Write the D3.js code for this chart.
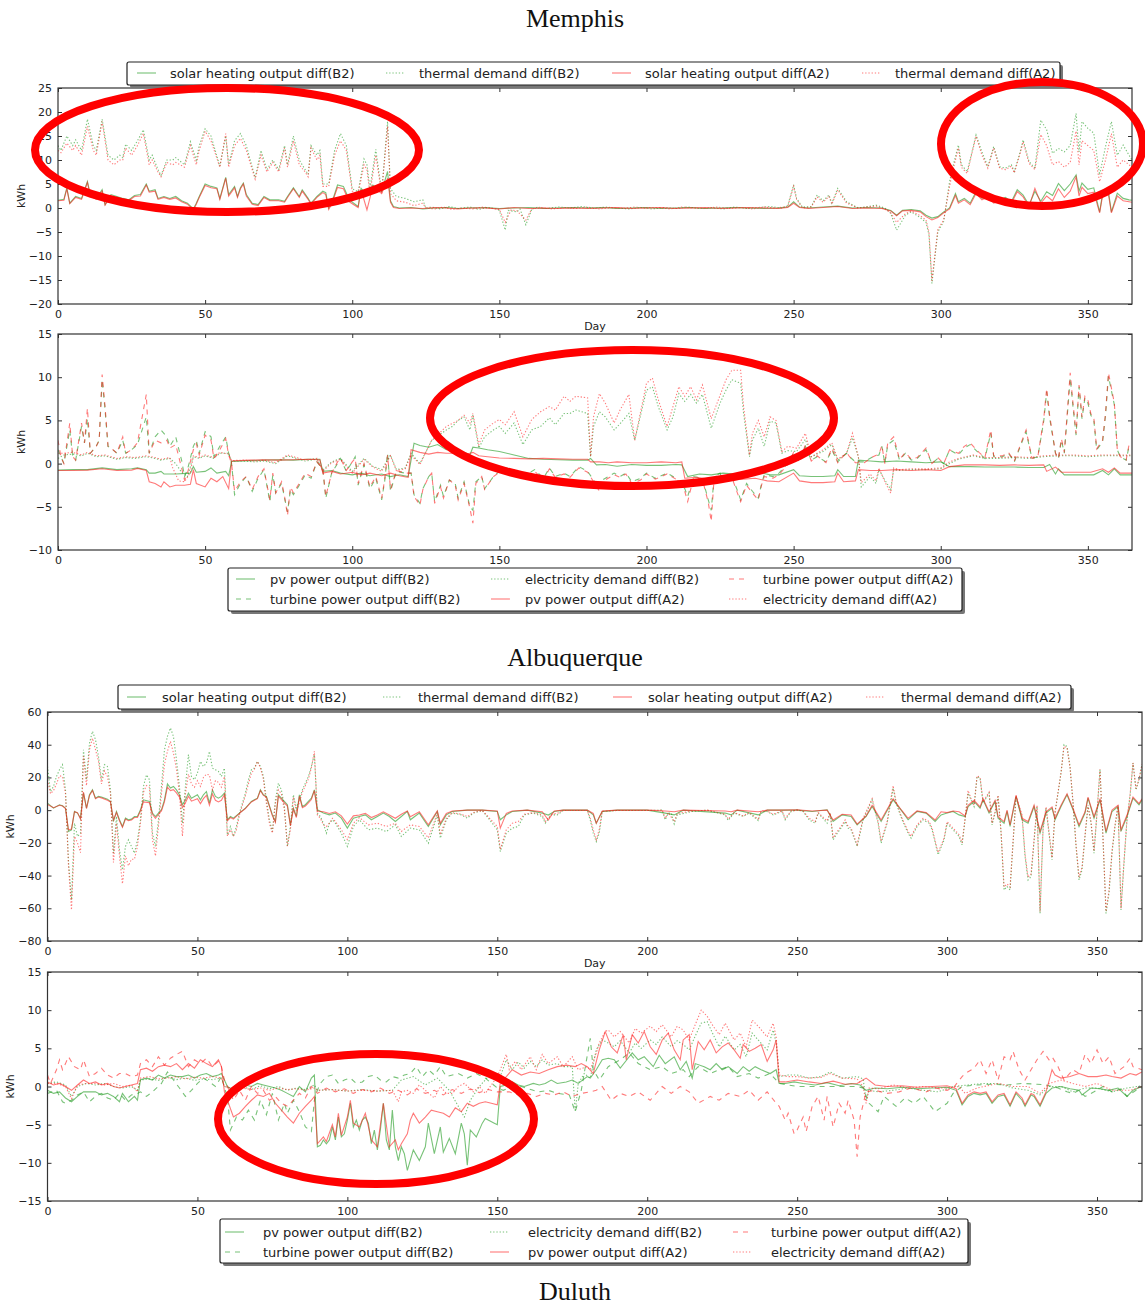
<!DOCTYPE html>
<html>
<head>
<meta charset="utf-8">
<script src="https://cdn.jsdelivr.net/npm/d3@7"></script>
<style>
body { margin: 0; background: #fff; }
svg text { font-family: "DejaVu Sans", sans-serif; fill: #222; }
</style>
</head>
<body>
<div id="chart"></div>
<script>
// Data: [day, kWh] points

var dayTicks = [0, 50, 100, 150, 200, 250, 300, 350];

// upper thermal panel
var upperSolarB2 = [[0,1.6],[2,1.8],[3,4.2],[4,1],[6,2.4],[8,2],[10,5.5],[11,2.8],[13,2],[15,3.8],[16,0.7],[18,2.8],[20,2.4],[22,2],[24,1.7],[26,2.6],[28,2.8],[30,5],[31,3.5],[33,3.8],[34,2],[36,2.4],[38,2],[40,2.4],[42,1.5],[44,1],[46,-0.2],[47,1],[48,2.4],[50,5],[52,4.5],[54,4.2],[55,2],[57,6.4],[58,2.8],[60,4.5],[61,2.4],[62,4.2],[63,5.2],[64,2.8],[66,1],[68,0.7],[70,2.4],[72,1.7],[75,1.7],[77,1.4],[78,2.4],[80,4.2],[82,2.4],[83,3.8],[85,2],[86,1],[88,2.4],[90,3.5],[91,3.2],[92,0],[93,1],[95,4.8],[97,4.5],[99,1.7],[102,0.3],[103,4.1],[105,2.7],[107,4.8],[110,3.4],[112,7.6],[113,1.5],[114,0.3],[116,0],[120,0.1],[124,-0.2],[128,0],[132,0.1],[136,-0.1],[140,0],[145,0.1],[150,-0.1],[155,0],[160,0.1],[165,-0.1],[170,0],[175,0.1],[180,0],[185,0.1],[190,-0.1],[195,0],[200,0.1],[205,-0.1],[210,0],[215,0.1],[220,-0.1],[225,0],[230,0.1],[235,0],[240,-0.1],[245,0],[248,0.2],[250,1.3],[252,0.2],[255,0],[260,0.2],[265,0.4],[270,0],[275,0.1],[280,0],[283,-0.5],[285,-1.5],[287,-0.5],[290,-0.3],[293,-0.6],[295,-1.5],[297,-2.1],[299,-1.8],[301,-0.8],[303,0],[305,3],[306,1.3],[308,2],[310,1],[312,3.4],[314,2],[316,2.7],[318,1.3],[320,1.7],[322,2.2],[324,1.3],[326,3.8],[328,2.7],[330,0.6],[332,3.5],[334,1.4],[336,3.4],[338,2.6],[340,5.1],[342,3.6],[344,5],[346,6.9],[347,3.5],[348,5.2],[350,3.9],[352,4.2],[354,-0.8],[355,3],[357,3.4],[358,-0.8],[360,3.1],[362,2],[364,1.7],[365,1.6]];
var upperThermalB2 = [[0,13],[1,12],[3,15],[5,13],[6,14.2],[8,12],[10,18.5],[12,13],[13,12],[15,18.5],[17,11],[19,10],[21,11],[22,10.5],[23,13.3],[25,12],[27,14],[29,16.3],[31,10],[32,11],[34,8],[35,6.8],[37,10],[39,10],[40,10.5],[43,9],[45,13.8],[47,10],[48,13],[50,16.5],[52,15],[55,8.7],[57,15],[58,9],[60,14],[62,15.5],[64,13],[67,6.3],[69,12],[71,8],[73,10],[75,8],[77,13],[78,9],[80,15],[82,10],[84,8],[85,7],[86,13],[88,11],[89,12],[90,5],[92,5],[94,12],[96,15.5],[98,13],[100,4],[102,3.4],[104,10.2],[105,9],[106,4],[108,12.2],[110,3.4],[112,18],[113,4],[115,2.4],[118,2],[121,1.3],[124,1.7],[125,0],[127,0.2],[130,-0.2],[133,0.3],[136,-0.1],[140,0.2],[143,-0.3],[146,0.1],[149,-0.2],[150,-0.5],[152,-4.6],[153,-0.5],[156,-0.8],[157,-0.2],[159,-3.5],[161,-0.3],[163,0.2],[166,-0.1],[170,0.2],[174,0],[178,0.3],[182,-0.1],[186,0.2],[190,0],[194,-0.2],[198,0.1],[202,-0.2],[206,0.1],[210,-0.1],[214,0.2],[218,-0.1],[222,0.1],[226,-0.2],[230,0.2],[234,-0.1],[238,0.1],[242,0.3],[246,0],[248,0.5],[250,4.8],[251,2],[253,0.2],[256,0.3],[258,2.7],[260,1.5],[262,2.7],[263,1],[265,4.1],[268,1.3],[272,0],[275,0.3],[278,0.6],[281,0],[283,-1.1],[285,-4.6],[288,-1.5],[290,-0.8],[293,-2],[295,-3],[296,-5.6],[297,-15.7],[299,-5],[301,-2.8],[303,5.5],[304,8.3],[306,13.1],[307,9],[309,7.6],[312,15.2],[314,11.7],[316,8.6],[318,12.8],[320,8.6],[322,8.3],[324,9],[325,7.6],[327,11.7],[328,14.2],[330,9.7],[332,8.3],[334,18.3],[336,16.3],[338,11.4],[340,12.4],[342,11.7],[344,13],[346,19.7],[347,11.7],[348,18],[350,16.6],[352,15.6],[354,6.9],[356,12.8],[358,18],[360,11],[362,13.1],[364,11],[365,10]];
var upperSolarA2 = [[0,1.5],[2,1.6],[3,4],[4,0.9],[6,2.2],[8,1.8],[10,5.3],[11,2.5],[13,1.8],[15,3.5],[16,0.6],[18,2.5],[20,2.2],[22,1.8],[24,1.5],[26,2.4],[28,2.5],[30,4.8],[31,3.3],[33,3.5],[34,1.8],[36,2.2],[38,1.8],[40,2.1],[42,1.3],[44,0.8],[46,-0.4],[47,0.8],[48,2.2],[50,4.7],[52,4.2],[54,4],[55,1.8],[57,6.2],[58,2.5],[60,4.2],[61,2.2],[62,4],[63,5],[64,2.5],[66,0.8],[68,0.5],[70,2.2],[72,1.5],[75,1.5],[77,1.2],[78,2.2],[80,4],[82,2.2],[83,3.5],[85,1.8],[86,0.8],[88,2.2],[90,3.2],[91,2.8],[92,-0.3],[93,0.8],[95,4.3],[97,4],[99,1.3],[102,0.1],[103,3.8],[105,-0.4],[107,4.5],[110,3],[112,6.2],[113,1.2],[114,0.1],[116,-0.1],[120,0],[124,-0.1],[128,0.1],[132,0],[136,-0.2],[140,0],[145,0],[150,-0.2],[155,0.1],[160,-0.1],[165,0],[170,-0.1],[175,0],[180,-0.1],[185,0],[190,0.1],[195,-0.1],[200,0],[205,0.1],[210,-0.1],[215,0],[220,0.1],[225,-0.1],[230,0],[235,0.1],[240,0],[245,-0.1],[248,0.1],[250,1],[252,0.1],[255,-0.1],[260,0.1],[265,0.3],[270,-0.1],[275,0],[280,-0.1],[283,-0.6],[285,-1.6],[287,-0.6],[290,-0.5],[293,-0.8],[295,-1.8],[297,-2.5],[299,-2],[301,-1],[303,-0.2],[305,2.6],[306,1],[308,1.7],[310,0.7],[312,3],[314,1.7],[316,2.3],[318,1],[320,1.4],[322,1.8],[324,1],[326,3.4],[328,2.3],[330,0.3],[332,4.1],[334,1],[336,2.5],[338,1.5],[340,4],[342,2.2],[344,3.5],[346,6.5],[347,2.5],[348,4.3],[350,3],[352,3.3],[354,-1],[355,2.5],[357,2.8],[358,-1],[360,2.5],[362,1.5],[364,1.3],[365,1.2]];
var upperThermalA2 = [[0,12],[1,11.5],[3,13.5],[5,12],[6,13],[8,11],[10,17],[12,12],[13,11],[15,18],[17,10],[19,9],[21,10],[22,10],[23,12.5],[25,11],[27,13],[29,15.5],[31,9],[32,10],[34,7.5],[35,6.5],[37,9.5],[39,9],[40,9.5],[43,8.5],[45,13],[47,9],[48,12],[50,16],[52,14],[55,8.5],[57,15.5],[58,8.5],[60,13],[62,14.5],[64,12],[67,6],[69,11],[71,7.5],[73,9.5],[75,7.5],[77,12.5],[78,8.5],[80,14],[82,9],[84,7.5],[85,6.5],[86,12.5],[88,10],[89,11],[90,4.5],[92,4.5],[94,11],[96,14],[98,12],[100,3.5],[102,3],[104,9],[105,8],[106,3],[108,11],[110,3],[112,17],[113,3],[115,1.5],[118,1.2],[121,0.5],[124,1],[125,0],[128,-0.2],[131,0.2],[134,-0.3],[137,0],[141,-0.2],[144,0.2],[147,0],[150,-0.3],[152,-3],[154,-0.4],[156,-0.6],[159,-2.5],[161,-0.2],[164,0.1],[168,-0.2],[172,0.1],[176,-0.1],[180,0.2],[184,-0.2],[188,0.1],[192,-0.1],[196,0.2],[200,0],[204,0.1],[208,-0.2],[212,0.2],[216,0],[220,-0.1],[224,0.2],[228,-0.1],[232,0.1],[236,-0.2],[240,0.2],[244,0],[248,0.3],[250,4.5],[251,1.8],[253,0],[256,0.2],[258,2.3],[260,1.2],[262,2.4],[263,0.8],[265,3.8],[268,1],[272,0],[275,0.2],[278,0.4],[281,-0.2],[283,-1],[285,-3],[288,-1.2],[290,-0.6],[293,-1.6],[295,-2.5],[296,-5],[297,-15.2],[299,-4.5],[301,-2.5],[303,4.5],[304,7.5],[306,12.5],[307,8.5],[309,7.2],[312,15],[314,11],[316,8.3],[318,12.5],[320,8.3],[322,8],[324,8.7],[325,7.3],[327,11.4],[328,13.8],[330,9.3],[332,8],[334,15.3],[336,13],[338,9],[340,9.7],[342,8.5],[344,9.5],[346,16],[347,9],[348,14],[350,13],[352,12],[354,5.5],[356,10],[358,15.5],[360,8.5],[362,10],[364,9],[365,8.5]];

// upper electricity panel
var upperPvB2 = [[0,-0.75],[5,-0.7],[10,-0.7],[15,-0.5],[20,-0.7],[25,-0.6],[27,-0.5],[30,-0.7],[31,-1.1],[33,-1.1],[35,-0.9],[36,-1.2],[40,-1.2],[45,-1.1],[46,-0.35],[47,-1],[50,-0.9],[52,-0.5],[54,-1.1],[57,-0.9],[58,-1.4],[59,0.25],[65,0.35],[70,0.4],[75,0.45],[80,0.4],[85,0.5],[89,0.5],[90,-0.9],[93,-0.8],[96,-1.1],[100,-1.3],[103,-1.1],[106,-1.4],[110,-1.2],[113,-1.5],[116,-1.3],[119,-1.5],[121,2.35],[123,2.1],[126,1.9],[129,2.2],[132,1.6],[135,1.7],[138,1.3],[140,1.0],[141,1.9],[143,1.8],[146,1.6],[150,1.4],[155,1.0],[160,0.6],[165,0.5],[170,0.45],[175,0.4],[180,0.4],[181,0.6],[183,-0.15],[186,-0.1],[190,-0.3],[195,-0.1],[200,-0.2],[205,-0.2],[210,-0.1],[212,-0.15],[214,-1.5],[218,-1.2],[222,-1.3],[226,-1.1],[230,-1.2],[234,-1.2],[238,-1],[242,-1.3],[245,-1.3],[250,-0.7],[252,-1.4],[256,-1.5],[260,-1.5],[264,-1.4],[265,-0.7],[267,-1.5],[271,-1.5],[272,0.4],[276,0.3],[280,0.2],[285,0.3],[290,0.2],[295,0.1],[300,0.2],[303,-0.35],[310,-0.35],[315,-0.4],[320,-0.4],[325,-0.4],[330,-0.45],[335,-0.45],[337,-0.1],[339,-1.2],[340,-0.6],[342,-1.3],[347,-1.3],[352,-1.3],[355,-0.8],[357,-1.3],[359,-0.6],[361,-1.3],[365,-1.3]];
var upperTurbineB2 = [[0,1.6],[1,0.8],[2,0],[4,3.9],[5,0.8],[6,0.4],[8,4.3],[9,2.4],[10,5.2],[11,1.2],[13,2],[14,2.7],[15,9.7],[16,6.2],[17,2],[18,1.8],[20,1.2],[22,2.7],[23,1.2],[25,1.6],[27,2.2],[30,5.4],[31,1.2],[33,3.1],[35,3.9],[37,3.1],[38,2],[40,3.1],[42,0.4],[43,-1.5],[44,-0.7],[46,2],[47,2.7],[48,1.2],[50,3.7],[52,3.1],[53,0.8],[55,2],[57,3.1],[58,1.2],[59,0],[60,-3.6],[62,-2.3],[64,-1.5],[66,-3.2],[68,-1.7],[70,-0.7],[72,-4.4],[73,-1.3],[74,-3.4],[76,-2.3],[77,-4],[78,-5.6],[79,-3],[80,-3.6],[82,-2.5],[84,-1.3],[86,-1.7],[88,0.2],[90,-0.7],[91,-4],[93,-1.1],[95,0],[96,0.6],[98,-0.9],[100,0.2],[101,0.8],[102,-2.5],[104,-0.15],[106,-2.9],[108,-1.7],[110,-4.2],[111,-2.1],[112,1.2],[113,-3.2],[115,-0.9],[118,-1.1],[120,-1.1],[121,-3.6],[123,-4.6],[124,-2.9],[126,-1.5],[127,-1.1],[128,-4.4],[130,-2.5],[131,-3.8],[133,-1.9],[135,-2.3],[136,-4],[138,-2.1],[140,-5],[141,-5.4],[142,-2.1],[144,-1.5],[145,-2.9],[148,-1.5],[150,-0.9],[152,-0.5],[155,-0.7],[158,-1.5],[160,-1.1],[162,-0.7],[165,-1.7],[167,-0.5],[169,-1.5],[172,-1.1],[174,-1.5],[177,-0.35],[180,-0.9],[184,-2.9],[185,-1.9],[189,-1.1],[191,-1.5],[193,-1.1],[195,-2.1],[198,-1.7],[200,-1.1],[203,-1.7],[207,-1.1],[210,-1.7],[213,-2.9],[214,-3.8],[216,-1.5],[219,-1.7],[221,-4.2],[222,-5.4],[223,-1.5],[225,-1.1],[226,-1.9],[229,-1.5],[231,-3.2],[232,-4.2],[234,-2.3],[236,-3.2],[238,-4],[239,-2.5],[240,-1.3],[243,-1.5],[245,-1.1],[248,0],[250,1.2],[252,0.2],[254,2],[256,0.4],[258,0.8],[261,0.2],[263,1.6],[265,0.2],[268,1.2],[269,0.8],[271,0.2],[274,0.2],[277,0.8],[279,1],[280,2],[281,0],[282,2.2],[284,2.7],[286,0.4],[288,1.2],[290,0.4],[292,0.6],[295,1.6],[297,0],[299,0.6],[301,0],[303,1.6],[306,1],[308,1.8],[310,2.2],[313,1.2],[315,0.6],[317,3.5],[318,0.8],[321,0.8],[323,1.2],[325,0.2],[329,3.7],[331,0.6],[333,0.8],[335,4.9],[336,8.3],[337,5.3],[339,1.2],[340,0.6],[341,2.7],[342,1.2],[344,9.9],[345,6.4],[346,3.3],[347,8.9],[348,5.2],[349,7.6],[350,7],[351,5.6],[352,5.1],[353,1.6],[355,2.5],[356,5.6],[357,10.1],[359,6.8],[360,1.6],[361,0.8],[363,0.4],[364,2]];
var upperElecB2 = [[0,0.6],[2,1.0],[5,1.1],[8,0.9],[10,1.2],[13,0.8],[16,0.9],[20,0.5],[23,0.7],[26,0.6],[30,0.8],[33,0.6],[35,0.4],[38,0.6],[40,0],[42,-1],[44,-1.5],[46,0.8],[48,0.6],[50,0.9],[53,0.6],[55,1.2],[58,1.2],[59,0.3],[63,0.3],[67,0.2],[70,0.3],[74,0],[78,0.9],[80,0.7],[84,0.3],[88,0.5],[90,-0.75],[93,0.2],[96,0.6],[100,-0.9],[104,0.6],[107,-0.3],[110,-0.7],[113,1],[115,-0.7],[118,-0.5],[120,1.2],[123,0],[127,2.7],[132,3.9],[134,4.3],[136,5],[138,5.4],[140,3.9],[141,5.6],[143,1.8],[145,3.1],[148,3.9],[150,4.3],[152,3.5],[155,4.7],[158,2.2],[161,3.9],[164,4.3],[167,5.3],[169,4.5],[172,5.8],[174,5.8],[176,6.2],[180,5.8],[181,0.8],[182,4.3],[184,6],[186,5.4],[189,3.9],[191,4.6],[194,5.8],[196,2.7],[200,8.5],[202,8.9],[204,6.6],[207,3.9],[209,5.4],[211,8.1],[213,7.2],[215,8],[217,7],[219,8],[222,4.1],[225,7],[227,8.5],[229,9.7],[232,9.3],[233,5.8],[235,0.8],[236,2.7],[238,4.1],[240,2],[242,4.9],[244,4.7],[246,1.2],[248,1.5],[251,1.4],[254,2.8],[256,0.8],[260,1.4],[263,2.2],[265,0.4],[268,1.2],[270,3],[272,0.8],[273,-2.7],[276,-1.5],[278,-2.3],[279,-0.7],[281,-1.9],[283,-3],[284,-0.7],[286,-0.8],[290,-0.7],[295,-0.7],[300,-0.6],[303,0],[306,0.5],[311,0.9],[315,0.6],[320,0.6],[325,0.7],[330,0.6],[335,0.8],[340,0.9],[345,0.9],[350,0.8],[355,0.9],[360,0.9],[365,0.9]];
var upperPvA2 = [[0,-0.8],[5,-0.8],[10,-0.75],[15,-0.6],[20,-0.8],[25,-0.75],[27,-0.55],[30,-0.8],[31,-2.1],[33,-2.3],[35,-2.7],[36,-2.1],[38,-2.7],[40,-2.5],[43,-2.5],[45,-2.4],[46,-0.7],[47,-2.3],[50,-2.7],[52,-1.7],[54,-2.1],[56,-1.5],[58,-2.9],[59,0.3],[65,0.4],[70,0.45],[75,0.4],[80,0.45],[85,0.5],[89,0.45],[90,-1.1],[93,-0.9],[96,-1.2],[100,-1],[103,-1.3],[106,-1.1],[110,-1.4],[113,-1.1],[116,-1.4],[119,-1.6],[120,1.6],[123,1.3],[126,1.1],[129,1.3],[132,1.2],[135,1.2],[138,1.0],[141,1.3],[143,0.9],[146,0.8],[150,0.65],[155,0.6],[160,0.55],[165,0.6],[170,0.55],[175,0.5],[180,0.5],[181,0.2],[184,0.2],[187,0.1],[190,0.2],[195,0.1],[200,0.1],[205,0.2],[210,0.1],[212,0.2],[213,-1.7],[217,-1.6],[221,-1.8],[225,-1.6],[229,-1.9],[233,-1.8],[237,-1.7],[241,-2],[245,-2.1],[250,-1.1],[252,-2],[256,-2.2],[260,-2.2],[264,-2.1],[265,-1.1],[267,-2.1],[271,-2],[272,-0.7],[276,-0.8],[280,-0.8],[285,-0.7],[290,-0.8],[295,-0.7],[300,-0.8],[303,-0.35],[308,-0.15],[315,-0.15],[320,-0.2],[325,-0.15],[330,-0.2],[335,-0.15],[336,-0.9],[339,-0.4],[341,-1],[346,-1],[351,-1],[355,-0.6],[357,-1],[359,-0.5],[361,-1.1],[365,-1.1]];
var upperTurbineA2 = [[0,2.7],[1,0.8],[2,0],[4,4.7],[5,0.8],[6,0.4],[8,4.7],[9,2.4],[10,6.4],[11,1.2],[13,2],[14,2.7],[15,10.3],[16,6.6],[17,2],[18,1.8],[20,1.2],[22,3.1],[23,1.2],[25,1.6],[27,2.4],[30,8],[31,1.2],[33,2.7],[35,2.4],[37,2.7],[38,1.8],[40,2.2],[42,-0.5],[43,-1.9],[44,-1.1],[46,1.6],[47,2.3],[48,1],[50,3.3],[52,2.7],[53,0.6],[55,1.6],[57,2.9],[58,1],[59,0],[60,-3.2],[62,-2.1],[64,-1.5],[66,-3],[68,-1.5],[70,-0.6],[72,-4.2],[73,-1.1],[74,-3.4],[76,-2.1],[77,-3.8],[78,-6],[79,-2.7],[80,-3.4],[82,-2.3],[84,-1.1],[86,-1.5],[88,0.2],[90,-0.6],[91,-3.8],[93,-1.1],[95,0.2],[96,0.6],[98,-0.8],[100,0.2],[101,0.6],[102,-2.3],[104,0],[106,-2.7],[108,-1.5],[110,-4],[111,-1.9],[112,1],[113,-3],[115,-0.8],[118,-1.1],[120,-1.1],[121,-3.8],[123,-4.8],[124,-3],[126,-1.5],[127,-1.1],[128,-4.6],[130,-2.7],[131,-4],[133,-1.9],[135,-2.5],[136,-4.2],[138,-2.3],[140,-5.2],[141,-6.9],[142,-2.3],[144,-1.5],[145,-3],[148,-1.5],[150,-1],[152,-0.6],[155,-0.8],[158,-1.7],[160,-1.2],[162,-0.9],[165,-1.9],[167,-0.6],[169,-1.6],[172,-1.2],[174,-1.6],[177,-0.5],[180,-1],[184,-3.2],[185,-2.1],[189,-1.3],[191,-1.6],[193,-1.2],[195,-2.3],[198,-1.9],[200,-1.2],[203,-1.8],[207,-1.2],[210,-1.8],[213,-3.2],[214,-4.4],[216,-1.6],[219,-1.8],[221,-4.5],[222,-6.7],[223,-1.6],[225,-1.2],[226,-2],[229,-1.6],[231,-3.5],[232,-4.4],[234,-2.5],[236,-3.4],[238,-4.2],[239,-2.6],[240,-1.5],[243,-1.7],[245,-1.3],[248,-0.1],[250,1.3],[252,0.1],[254,2.2],[256,0.3],[258,0.9],[261,0.1],[263,1.8],[265,0.1],[268,1.3],[269,0.8],[271,0.1],[274,0.1],[277,0.8],[279,1.1],[280,2.1],[281,0],[282,2.4],[284,3.1],[286,0.5],[288,1.3],[290,0.5],[292,0.7],[295,1.8],[297,0],[299,0.7],[301,0],[303,1.6],[306,1.2],[308,2],[310,2.4],[313,1.3],[315,0.7],[317,3.9],[318,0.9],[321,0.9],[323,1.3],[325,0.3],[329,3.9],[331,0.6],[333,0.8],[335,5.2],[336,8.7],[337,5.6],[339,1.2],[340,0.6],[341,2.9],[342,1.3],[344,10.5],[345,6.8],[346,3.5],[347,9.1],[348,5.4],[349,7.8],[350,7.4],[351,5.8],[352,5.4],[353,1.7],[355,2.7],[356,5.8],[357,10.5],[359,7],[360,1.6],[361,0.8],[363,0.4],[364,2.2]];
var upperElecA2 = [[0,1.2],[2,1.2],[5,1.3],[8,1],[10,1.3],[13,0.9],[16,1.0],[20,0.6],[23,0.8],[26,0.7],[30,0.9],[33,0.7],[35,0.5],[38,0.7],[39,-0.5],[41,-2],[43,-2.1],[45,-1],[46,0.9],[48,0.7],[50,1],[53,0.7],[55,1.3],[58,1.1],[59,0.35],[63,0.4],[67,0.3],[70,0.4],[74,0.1],[78,1],[80,0.8],[84,0.4],[88,0.6],[90,-0.9],[93,0.1],[96,0.5],[100,-1.1],[104,0.5],[107,-0.4],[110,-0.9],[113,0.9],[115,-0.8],[118,-0.6],[120,1.0],[123,-0.1],[127,2.7],[132,4.3],[136,5],[138,5.6],[140,4.7],[141,5.8],[143,2.2],[145,3.9],[148,4.7],[150,5.1],[152,4.5],[155,6],[158,3.1],[161,5.1],[164,6],[167,6.6],[169,6.2],[172,7.8],[174,7.2],[176,7.8],[180,7.6],[181,0.8],[182,5.4],[184,8.1],[186,7],[189,4.7],[191,6.2],[194,8],[196,2.7],[200,9.3],[202,9.9],[204,7.4],[207,4.3],[209,6.6],[211,8.9],[213,7.8],[215,8.9],[217,7.4],[219,9.1],[222,5.2],[225,7.9],[227,9.7],[229,10.8],[232,10.8],[233,6.6],[235,1],[236,3.5],[238,5],[240,3.1],[242,5.4],[244,5],[246,1.4],[248,2],[251,1.8],[254,3.5],[256,0.8],[260,1.6],[263,2.4],[265,0.5],[268,1.2],[270,3.5],[272,0.8],[273,-2.2],[276,-1.2],[278,-2],[279,-0.5],[281,-2.1],[283,-3.4],[284,-0.5],[286,-0.7],[290,-0.6],[295,-0.6],[300,-0.5],[303,0.2],[306,0.6],[311,1.0],[315,0.7],[320,0.7],[325,0.8],[330,0.7],[335,0.9],[340,1],[345,1],[350,0.9],[355,1],[360,1],[365,1]];

// lower thermal panel
var lowerSolarB2 = [[0,4.3],[2,1.2],[4,3.3],[5,2.7],[6,1.2],[7,-13],[8,-12],[9,-0.8],[10,-1.8],[11,-4.9],[12,10.4],[13,1.2],[14,9.4],[15,12.4],[16,7.3],[17,8.4],[18,8],[20,6.7],[21,5.3],[22,-6.9],[23,-0.8],[24,-5.9],[25,-10],[26,-4.9],[27,-5.9],[28,-5.5],[29,-3.9],[30,-3.9],[31,0.2],[32,6.3],[34,5.3],[35,-1.8],[36,-3.9],[37,-1.8],[38,0.2],[39,6.3],[40,16],[41,13.5],[42,14.5],[43,12.4],[44,9.4],[45,3.3],[46,6.3],[47,10.4],[48,7.3],[50,9.4],[51,6.3],[52,9.4],[53,11.4],[54,4.3],[55,12.4],[56,8.4],[57,7.3],[58,8.4],[59,10.4],[60,-5.9],[61,-3.9],[62,-4.9],[64,-1.8],[66,1.2],[67,3.3],[68,5.3],[69,6.3],[70,7.3],[71,12.4],[72,9.4],[73,8.4],[75,-2.9],[76,-6.9],[77,9.4],[78,7.3],[80,3.3],[81,-9],[82,1.2],[83,-3.9],[84,9.4],[85,2.2],[86,3.3],[87,5.3],[88,7.3],[89,12.4],[90,0.2],[92,-1.8],[94,-2.9],[96,-1.8],[98,-4.9],[100,-11],[102,-4.9],[104,-3.9],[106,-2.9],[108,-5.9],[110,-3.9],[112,-1.8],[114,-3.9],[116,-6.9],[118,-3.9],[120,-0.8],[121,-5.9],[124,-1.8],[127,-10],[130,-0.8],[131,-9],[133,-2.9],[135,-0.8],[140,0],[145,0],[150,-0.8],[151,-5.9],[153,-2.9],[155,-0.8],[160,0],[165,-1.8],[167,-3],[169,-0.8],[172,0],[180,0],[182,-2.9],[183,-8],[185,-0.8],[190,0],[200,0],[206,-1.8],[209,-2.9],[212,0],[226,-1.8],[228,-2.9],[230,0],[237,-2.9],[240,0],[245,0],[250,0],[255,-0.8],[260,0.2],[262,-6.9],[265,-2.9],[268,-3.9],[270,-9],[273,-3.9],[275,2.2],[278,-6.9],[282,6.3],[285,-0.8],[287,-5.9],[290,-0.8],[293,-1.8],[296,-6.9],[298,-2.9],[300,-1.8],[302,-0.8],[304,-2.9],[306,-3.9],[307,2.2],[309,5.3],[311,1.2],[312,6.3],[314,-1.8],[316,5.3],[317,-4.9],[319,-8],[320,-0.8],[321,-10],[323,8.4],[325,-5.9],[327,-8],[329,2.2],[331,-14],[333,-1.8],[335,1.2],[336,-5.9],[338,2.2],[340,9.4],[342,0.2],[344,-10],[346,-1.8],[347,7.3],[349,-4.9],[351,6.3],[353,-14],[355,-0.8],[357,2.2],[358,-13],[360,-3.9],[362,7.3],[364,3.3],[365,6.3]];
var lowerThermalB2 = [[0,26.7],[1,11.4],[2,14.5],[3,20.6],[4,24.7],[5,27.8],[6,12.4],[7,-31.4],[8,-54.9],[9,-8],[10,-16.1],[11,-14.1],[12,36.9],[13,18.6],[14,41],[15,48.2],[16,43.1],[17,32.9],[18,18.6],[19,27.8],[20,26.7],[21,12.4],[22,-26.3],[23,-3.9],[24,-24.3],[25,-36.5],[26,-22.2],[27,-18.2],[28,-22.2],[29,-26.3],[30,-18.2],[31,-5.9],[32,14.5],[33,21.6],[34,18.6],[35,-14.1],[36,-22.2],[37,-5.9],[38,14.5],[39,36.9],[40,45.1],[41,50.2],[42,45.1],[43,30.8],[44,14.5],[45,-8],[46,14.5],[47,33.9],[48,20.6],[49,18.6],[50,22.7],[51,29.8],[52,26.7],[53,28.8],[54,35.9],[55,25.7],[56,24.7],[57,23.7],[58,20.6],[59,25.7],[60,-15.1],[61,-10],[62,-16.1],[63,-10],[64,-1.8],[65,4.3],[66,10.4],[67,18.6],[68,24.7],[69,25.7],[70,29.8],[71,26.7],[72,20.6],[73,6.3],[74,-5.9],[75,-13.1],[76,6.3],[77,16.5],[78,12.4],[79,2.2],[80,-22.2],[81,-10],[82,9.4],[83,1.2],[84,6.3],[85,12.4],[86,16.5],[87,20.6],[88,26.7],[89,33.9],[90,-1.8],[91,-3.9],[92,-8],[93,-14.1],[94,-8],[95,-5.9],[96,-8],[98,-14.1],[100,-22.2],[102,-10],[104,-5.9],[107,-12],[110,-11],[113,-13.1],[116,-9],[118,-16.1],[121,-11],[124,-12],[127,-20.2],[130,-2.9],[131,-17.1],[133,-5.9],[135,-1.8],[138,-2.9],[140,-4.9],[142,-1.8],[145,-0.2],[150,-12],[151,-25.3],[153,-14.1],[155,-11],[157,-10],[159,-2.9],[162,-1.8],[165,-3.9],[166,-8],[168,-2.9],[170,-2.9],[172,-0.2],[180,-0.2],[181,-5.9],[182,-14.1],[183,-19.2],[184,-14.1],[185,-0.8],[190,-0.2],[200,-0.2],[205,0],[206,-5.9],[207,-1.8],[208,-1.8],[209,-8.4],[210,-2.9],[215,-0.8],[220,0],[226,-2.9],[227,-6.3],[229,-1.8],[232,-3.9],[234,-1.8],[237,-6.3],[238,-0.8],[240,-0.8],[242,-2.9],[245,-0.8],[246,-5.9],[248,-0.8],[250,0.2],[252,-0.8],[254,-5.9],[256,-8],[257,-1.8],[259,-5.9],[260,-8],[261,-1.8],[262,-18.2],[263,-15.1],[265,-10],[266,-6.9],[267,-11],[268,-12],[270,-22.2],[272,-5.9],[274,2.2],[275,6.3],[277,-8],[278,-20.2],[280,-8],[282,13.5],[283,4.3],[285,-5.9],[287,-14.1],[288,-17.1],[290,-10],[292,-5.9],[294,-8],[295,-12],[297,-27.3],[299,-18.2],[300,-8],[302,-12],[304,-16.1],[305,-21.2],[306,-5.9],[307,10.4],[308,6.3],[309,2.2],[310,20.6],[311,19.6],[312,4.3],[314,10.4],[315,-9],[316,-1.8],[317,8.4],[318,-14.1],[319,-48.8],[320,-46.7],[321,-48.8],[322,-20.2],[323,8.4],[325,-3.9],[326,-28.4],[327,-42.7],[328,-40.6],[330,2.2],[331,-63.1],[332,-12],[333,1.2],[335,-30.4],[336,-1.8],[338,22.7],[339,40],[340,39],[341,26.7],[342,4.3],[343,-22.2],[344,-42.7],[345,-36.5],[346,-16.1],[347,2.2],[348,-8],[349,-26.3],[350,-1.8],[351,24.7],[352,-18.2],[353,-63.1],[354,-50.8],[355,-26.3],[356,-10],[357,2.2],[358,-61],[359,-32.4],[360,-5.9],[361,8.4],[362,28.8],[363,12.4],[364,18.6],[365,27.8]];
var lowerSolarA2 = [[0,3.5],[2,1.5],[4,3],[5,2.5],[6,1],[7,-12],[8,-11.5],[9,-1],[10,-1.5],[11,-5.5],[12,11],[13,1],[14,9],[15,12],[16,7],[17,8],[18,7.5],[20,6],[21,5],[22,-6],[23,-1.5],[24,-6.5],[25,-10.5],[26,-5.5],[27,-6.5],[28,-6],[29,-4.5],[30,-4.5],[31,-0.5],[32,5],[34,4.5],[35,-2.5],[36,-5],[37,-2.5],[38,-0.5],[39,5],[40,14],[41,12],[42,12.5],[43,10.5],[44,8],[45,1.5],[46,4.5],[47,8.5],[48,5.5],[50,7],[51,4],[52,7],[53,9],[54,3],[55,10],[56,6],[57,5],[58,6],[59,9.5],[60,-6.5],[61,-4.5],[62,-5.5],[64,-2],[66,1],[67,3],[68,5],[69,6],[70,7],[71,12],[72,9],[73,8],[75,-3.5],[76,-7.5],[77,8.5],[78,6.5],[80,2.5],[81,-9.5],[82,0.5],[83,-4.5],[84,8.5],[85,1.5],[86,2.5],[87,4.5],[88,6.5],[89,12],[90,-0.5],[92,-1],[94,-2],[96,-1],[98,-3.5],[100,-8.5],[102,-3.5],[104,-3],[106,-2],[108,-4.5],[110,-3],[112,-1],[114,-3],[116,-5],[118,-2.5],[120,-0.5],[121,-4],[124,-1],[127,-9],[130,-0.5],[131,-8],[133,-2],[135,-0.5],[140,0],[145,0],[150,-0.5],[151,-11],[153,-2],[155,-0.5],[160,0],[165,-1],[167,-6],[169,-0.5],[172,0],[180,0],[182,-2],[183,-8],[185,-0.5],[190,0],[200,0],[206,-0.5],[209,-1],[212,0],[226,-0.5],[228,-1],[230,0],[237,-1],[240,0],[245,0],[250,0.2],[255,-0.5],[260,0],[262,-6],[265,-2.5],[268,-3],[270,-8.5],[273,-3.5],[275,3],[278,-6],[282,7],[285,-0.5],[287,-5],[290,-0.5],[293,-1.5],[296,-6],[298,-1],[300,-1.5],[302,-0.5],[304,-1],[306,-3.5],[307,3],[309,6],[311,2],[312,7],[314,-1],[316,6],[317,-4],[319,-7],[320,0],[321,-9],[323,9],[325,-5],[327,-7],[329,3],[331,-13],[333,-1],[335,2],[336,-5],[338,3],[340,10],[342,1],[344,-9],[346,-1],[347,8],[349,-4],[351,7],[353,-13],[355,0],[357,3],[358,-12],[360,-3],[362,8],[364,4],[365,7]];
var lowerThermalA2 = [[0,18.6],[1,10],[2,12],[3,16],[4,21],[5,20.6],[6,10],[7,-34],[8,-61],[9,-16],[10,-20],[11,-26],[12,33],[13,15],[14,37],[15,44],[16,37],[17,30],[18,16],[19,24],[20,20.5],[21,10],[22,-32],[23,-8],[24,-28],[25,-45],[26,-28],[27,-34],[28,-30],[29,-30],[30,-22],[31,-8],[32,11],[33,15],[34,14],[35,-18],[36,-28],[37,-10],[38,10],[39,28],[40,36],[41,42],[42,35],[43,25],[44,10],[45,-16],[46,10],[47,22],[48,16],[49,14],[50,18],[51,14.5],[52,20],[53,22],[54,21.5],[55,12.4],[56,18],[57,17],[58,14],[59,20.6],[60,-16],[61,-12],[62,-16],[63,-12],[64,-3],[65,3],[66,9],[67,16],[68,22.6],[69,25],[70,29.8],[71,26],[72,19],[73,4],[74,-8],[75,-14],[76,4],[77,12.4],[78,10],[79,0],[80,-22],[81,-12],[82,8],[83,-1],[84,5],[85,11],[86,15],[87,19],[88,26],[89,36],[90,-3],[91,-5],[92,-9],[93,-10],[94,-8],[95,-5],[96,-7],[98,-12],[100,-18],[102,-8],[104,-4.5],[107,-9],[110,-8],[113,-10],[116,-8],[118,-13],[121,-9],[124,-10],[127,-17],[130,-2],[131,-15],[133,-5],[135,-1.5],[138,-2.5],[140,-4],[142,-1.5],[145,-0.2],[150,-10],[151,-24],[153,-12],[155,-8],[157,-7],[159,-2.5],[162,-1.5],[165,-3],[166,-7],[168,-2.5],[170,-2],[172,-0.2],[180,-0.2],[181,-5],[182,-12],[183,-18],[184,-12],[185,-0.8],[190,-0.2],[200,-0.2],[205,0],[206,-5],[207,-1.5],[209,-7],[210,-2],[215,-0.5],[220,0],[226,-2.5],[227,-5.5],[229,-1.5],[232,-3.5],[234,-1.5],[237,-5.5],[238,-0.5],[240,-0.5],[242,-2.5],[245,-0.5],[246,-5],[248,-0.5],[250,0],[252,-0.5],[254,-5],[256,-7],[257,-1.5],[259,-5],[260,-6.5],[261,-1.5],[262,-17],[263,-14],[265,-9],[266,-6],[267,-10],[268,-11],[270,-21],[272,-5],[274,3],[275,7],[277,-7],[278,-19],[280,-7],[282,15],[283,5],[285,-5],[287,-13],[288,-16],[290,-9],[292,-5],[294,-7],[295,-11],[297,-26],[299,-17],[300,-7],[302,-11],[304,-15],[305,-20],[306,-5],[307,12],[308,7],[309,3],[310,21],[311,20],[312,5],[314,11],[315,-8],[316,-1],[317,9],[318,-13],[319,-47],[320,-45],[321,-47],[322,-19],[323,9],[325,-3],[326,-27],[327,-41],[328,-39],[330,3],[331,-62],[332,-11],[333,2],[335,-29],[336,-1],[338,23],[339,39],[340,38],[341,26],[342,5],[343,-21],[344,-41],[345,-35],[346,-15],[347,3],[348,-7],[349,-25],[350,-1],[351,25],[352,-17],[353,-62],[354,-49],[355,-25],[356,-9],[357,3],[358,-60],[359,-31],[360,-5],[361,9],[362,29],[363,13],[364,19],[365,28]];

// lower electricity panel
var lowerPvB2 = [[0,-0.5],[2,-0.9],[4,-0.7],[6,-1.5],[8,-2],[10,-1.3],[12,-0.7],[14,-0.7],[16,-0.7],[18,-1.1],[20,-0.9],[22,-1.3],[24,-2],[25,-0.9],[27,-2],[29,-1.3],[30,-1.8],[31,0.9],[33,1.1],[35,0.85],[37,1.5],[39,1.1],[41,1.5],[43,1.3],[45,1.3],[47,1.5],[49,1.1],[51,1.5],[53,1.7],[55,1.3],[57,1.5],[58,1.7],[59,0.85],[60,0],[62,-0.5],[64,-0.2],[66,0.2],[68,0],[70,0.4],[72,0.2],[74,0],[76,-0.2],[78,-0.5],[80,-0.9],[82,-1.3],[84,0],[86,-0.7],[88,1.1],[89,1.5],[90,-7.9],[91,-7.7],[92,-7],[93,-7.5],[94,-7],[95,-5.3],[96,-7],[97,-4],[98,-6.6],[99,-6.2],[100,-4.4],[101,-2.2],[102,-5.3],[103,-4.4],[104,-5.7],[105,-4.4],[106,-4],[107,-4.8],[108,-7.5],[109,-5.7],[110,-8.3],[111,-5.7],[112,-2.2],[113,-7],[114,-8.3],[115,-3.1],[116,-7.9],[117,-9.7],[118,-7.9],[119,-8.8],[120,-11],[122,-8.3],[124,-9.7],[126,-7.9],[127,-4.8],[129,-8.8],[131,-5.3],[132,-8.6],[134,-6.8],[136,-8.8],[138,-4.8],[139,-6.2],[140,-10.3],[141,-5.7],[143,-6.6],[145,-4.8],[146,-4.2],[149,-4.8],[150,-5],[151,0],[153,0.2],[155,0.6],[157,0.2],[159,0],[162,0.4],[164,0.2],[166,0.4],[168,0.85],[170,0.4],[173,0.6],[175,0.85],[177,0.4],[180,1.3],[181,1.1],[183,2.2],[185,3.5],[187,3.7],[189,3.5],[191,2.4],[194,3.9],[195,4.4],[197,3.5],[199,3.9],[202,2.6],[204,4.1],[206,3],[209,3.9],[211,2.2],[213,3.3],[215,1.1],[216,3],[219,2.6],[221,2.2],[223,3],[225,2.2],[227,2.6],[230,1.7],[232,2.6],[234,2],[236,2.6],[238,2.2],[241,1.7],[243,2.2],[244,0.4],[246,0.4],[249,0.6],[252,0.4],[256,0.2],[260,0.5],[264,0.1],[268,0.4],[271,0.2],[273,-0.5],[276,-0.2],[280,-0.3],[285,-0.1],[290,-0.3],[295,-0.2],[300,-0.1],[303,-0.5],[305,-2.4],[307,-1.3],[309,-0.9],[311,-1.1],[313,-0.9],[315,-2.2],[317,-1.3],[319,-1.1],[321,-2.6],[323,-0.9],[325,-1.8],[326,-2.6],[328,-1.1],[329,-1.3],[331,-2.6],[333,-0.9],[335,-0.2],[338,0],[341,-0.3],[344,-0.5],[345,-1.1],[348,-0.2],[351,-0.3],[354,-0.5],[357,-0.2],[360,-1.3],[362,-0.5],[365,0]];
var lowerTurbineB2 = [[0,-0.9],[3,-0.5],[5,-2],[6,-2.2],[8,-1.8],[10,-1.1],[12,-0.7],[14,-2],[16,-1.3],[18,-0.9],[20,-1.5],[22,-1.8],[24,-0.9],[26,-1.8],[28,-1.1],[30,-0.9],[31,-0.7],[33,-1.3],[35,-0.7],[38,0.4],[40,1.9],[42,0.85],[44,-0.2],[46,-1.3],[48,-0.5],[50,0.4],[52,1.1],[54,0.6],[56,0],[58,1.3],[59,-0.2],[60,-1.3],[61,-5.7],[63,-4],[65,-4.4],[67,-3.1],[69,-4.4],[71,-1.8],[73,-3.7],[75,-0.9],[77,-4.4],[79,-2.2],[80,-3.5],[82,-1.8],[84,-3.3],[86,-5.3],[88,-5.9],[89,-1.8],[90,-0.5],[91,0.4],[93,1.3],[95,1.5],[97,0.4],[99,0.85],[101,1.1],[103,0.4],[105,0.6],[107,1.3],[109,1.5],[111,0.85],[113,0.6],[115,1.3],[117,1.1],[119,1.5],[121,1.7],[123,2.6],[125,1.3],[127,2.2],[129,1.5],[131,2.6],[133,1.3],[137,1.7],[140,1.1],[143,1.7],[146,1.1],[150,-0.2],[152,-0.5],[155,0],[158,0],[162,-0.5],[164,-0.7],[167,-0.5],[170,-0.9],[174,-1.1],[176,-3.3],[178,-0.5],[181,6.3],[182,2.2],[184,0.85],[187,2.6],[191,3.5],[194,4.4],[197,3],[201,2.2],[205,2.6],[208,1.7],[212,2.2],[214,1.3],[217,2.6],[221,1.7],[224,2.2],[227,2.6],[230,1.3],[234,1.7],[237,1.1],[241,1.7],[244,0.4],[250,0],[255,0],[260,0],[265,0],[270,0],[272,-0.2],[274,-2.2],[277,-3.3],[279,-1.3],[283,-2.6],[286,-1.5],[289,-2.2],[292,-1.3],[296,-3.3],[300,-2.2],[302,-0.9],[305,0],[310,0.2],[315,0.3],[320,0.2],[325,0.4],[330,0.3],[333,0.2],[337,-0.2],[340,-0.7],[342,-0.9],[344,-0.5],[346,-1.3],[349,-0.7],[352,0],[355,-0.7],[358,-0.3],[360,-1.3],[363,-0.5],[365,-0.2]];
var lowerElecB2 = [[0,0.4],[3,0.6],[6,0.2],[8,-1.3],[10,0],[13,0.4],[16,0.2],[19,0.4],[22,0],[25,-0.2],[28,0],[30,-0.5],[31,0.85],[34,1],[37,0.8],[40,1.2],[43,0.9],[46,1.1],[49,0.8],[52,1],[55,0.9],[58,1.1],[59,0],[62,-0.3],[65,0],[68,-0.4],[71,0.1],[74,-0.3],[77,0],[80,-0.5],[83,-0.2],[86,-0.4],[89,0.2],[90,-0.5],[95,-0.4],[100,-0.6],[105,-0.4],[110,-0.6],[115,-0.5],[118,0.85],[122,1.3],[126,0.2],[130,1.1],[134,-0.5],[137,-2.6],[139,-4],[141,-1.8],[144,0],[147,1.3],[150,1.7],[151,1.3],[153,3.5],[155,2.2],[157,3.2],[159,2.4],[161,3.3],[163,2.6],[165,3.5],[167,2.8],[170,3],[172,2.6],[175,2.6],[176,-3.3],[177,0.4],[179,1.7],[181,1.1],[183,4.8],[185,6.1],[187,5.7],[189,5.2],[191,6],[194,4.4],[196,5.7],[198,5],[201,6.1],[203,5.5],[205,6.5],[208,5.2],[210,6],[212,5.5],[214,4.8],[216,6.6],[218,8.3],[220,8.5],[222,6.8],[224,5.2],[226,6.6],[229,4.8],[231,5.5],[233,3.9],[235,7],[237,6.1],[240,4.8],[242,7.4],[243,5.7],[244,1.3],[247,1.5],[250,1.5],[254,1.1],[258,1.3],[261,1.9],[265,1.1],[270,1.3],[272,1],[273,-1.8],[274,-0.5],[277,-0.7],[282,-0.5],[287,-0.2],[292,-0.5],[297,-0.7],[302,0],[307,0.2],[312,0.4],[317,0.4],[322,-0.2],[327,-0.5],[331,-1.1],[334,0],[338,0],[342,-0.7],[346,-0.2],[350,-0.2],[355,-0.7],[360,-0.2],[365,0.1]];
var lowerPvA2 = [[0,0.6],[2,0.2],[4,0.4],[6,0],[8,-0.5],[10,0.2],[12,0.85],[14,0.4],[16,0.6],[18,0.2],[20,0.4],[22,0],[24,-0.2],[26,0],[28,0.2],[30,0.4],[31,2.2],[33,2.4],[35,2],[37,2.6],[39,2.8],[41,2.6],[43,3],[45,2.2],[47,3],[49,2.4],[51,3.5],[53,3],[55,2.6],[57,3.5],[58,2.6],[59,-0.7],[60,-1.8],[62,-4],[64,-3.5],[66,-2.6],[68,-1.8],[70,-1.1],[72,-1.3],[74,-0.9],[76,-2.2],[78,-3.1],[80,-4],[82,-4.8],[84,-3.5],[86,-2.6],[88,-1.8],[89,-1.3],[90,-7.5],[92,-6.6],[93,-7.2],[95,-5],[96,-6.6],[97,-3.5],[98,-6.4],[100,-4],[101,-1.8],[102,-4.8],[104,-5.3],[106,-3.5],[108,-7],[110,-7.9],[112,-2.2],[114,-7.9],[116,-7],[117,-8.3],[118,-7.5],[120,-6.2],[121,-4.4],[122,-3.5],[124,-4.8],[126,-4],[128,-3.1],[130,-3.3],[132,-3.5],[134,-4],[136,-2.8],[138,-3.3],[140,-2.2],[142,-2.6],[144,-2.2],[146,-2],[148,-2.2],[150,-2.4],[151,0.5],[153,1.3],[155,2.2],[158,1.5],[161,1.9],[164,1.7],[167,2.2],[170,2.6],[173,2.8],[176,2.6],[178,3],[180,2.6],[182,1.7],[184,4.8],[186,7.2],[188,5.2],[190,4.4],[192,6.8],[193,3.5],[195,6.8],[197,5.7],[199,7.2],[201,5.2],[203,4.2],[205,6.1],[207,7],[209,4.8],[211,3.5],[212,6.1],[214,6.8],[215,2.2],[217,5.9],[219,4.8],[221,6.1],[223,4.4],[225,5.2],[227,5.7],[229,4.8],[231,3.7],[232,5.5],[234,4.6],[236,5],[238,5.5],[240,3.3],[242,4.8],[243,6.1],[244,0.6],[246,0.6],[250,0.85],[254,0.6],[258,0.4],[262,0.7],[266,0.3],[270,0.4],[273,1.1],[276,0.2],[280,0],[285,0.1],[290,-0.1],[295,0],[300,0.1],[303,-0.3],[305,-2.2],[307,-1.1],[309,-0.7],[311,-0.9],[313,-0.7],[315,-2],[317,-1.1],[319,-0.9],[321,-2.4],[323,-0.7],[325,-1.5],[326,-2.4],[328,-0.9],[329,-1.1],[331,-2.4],[333,-0.7],[335,2.2],[336,1.5],[338,1.1],[341,1.3],[344,1.7],[347,1.3],[350,1.3],[353,1.5],[355,1.3],[358,1.1],[361,1.7],[363,1.5],[365,1.9]];
var lowerTurbineA2 = [[0,1.5],[1,0.4],[3,2.2],[4,3.5],[5,2.2],[6,3],[7,3.9],[9,2.6],[11,2.2],[12,3.5],[14,1.3],[16,1.7],[18,2.4],[20,1.5],[22,1.1],[24,1.7],[26,1.7],[28,1.3],[30,1.5],[31,3],[33,3.5],[35,2.6],[37,3.9],[39,2.8],[41,3.7],[43,4.2],[45,4.6],[47,2.6],[49,3.5],[51,3],[53,3.7],[55,2.6],[57,3.3],[58,2.6],[59,0.85],[60,0],[62,-1.8],[64,-0.5],[66,-1.8],[68,0],[70,-0.9],[72,-0.5],[74,-1.8],[76,-1.3],[78,-2.2],[80,-2.6],[82,-1.8],[84,-0.9],[86,-1.5],[88,0],[90,-0.9],[93,-0.2],[96,-0.7],[99,-0.3],[102,-0.9],[105,-0.4],[108,-0.7],[111,-0.2],[114,-0.9],[117,-0.5],[120,-1.1],[123,-0.3],[126,-0.9],[129,-0.5],[132,-1.1],[135,-0.4],[138,-0.9],[141,-0.3],[144,-0.8],[147,-0.4],[150,-0.7],[154,-0.7],[157,-1.1],[160,-0.9],[163,-1.3],[166,-0.9],[169,-1.1],[172,-0.7],[175,-1.3],[178,-0.9],[181,-0.7],[183,-0.5],[185,0],[188,-1.8],[191,-0.9],[194,-1.3],[197,-0.7],[201,-1.8],[205,0],[208,-0.9],[211,0],[214,-0.7],[217,-2.2],[221,-1.3],[224,-1.8],[227,-0.9],[231,-1.3],[234,-0.5],[237,-1.8],[240,-0.7],[243,-2.2],[244,-2.6],[246,-4.4],[247,-3.5],[249,-6.2],[250,-5.7],[252,-4],[253,-5.9],[255,-2.6],[257,-1.3],[259,-4.4],[260,-1.3],[262,-5.3],[264,-2.2],[266,-3.5],[267,-1.8],[269,-4.4],[270,-9.2],[271,-4],[273,-0.7],[276,-0.5],[280,-0.9],[284,-0.7],[288,-0.2],[293,-0.7],[296,-0.2],[300,-0.5],[302,-0.2],[305,1.3],[306,1.7],[309,2.4],[311,3.5],[313,1.7],[315,3.5],[317,0.85],[319,3.9],[321,3.5],[322,4.6],[324,2.2],[326,0.85],[328,2.2],[330,3.5],[332,4.6],[334,3.5],[335,3.9],[337,2.6],[339,0.85],[342,2.2],[344,1.7],[346,4.2],[348,3],[350,4.8],[352,3],[354,3.9],[356,1.7],[359,2.6],[361,3.7],[362,2.6],[365,2.2]];
var lowerElecA2 = [[0,0.4],[3,0.4],[6,0],[8,-1.6],[10,0.2],[13,0.4],[16,0.4],[19,0.2],[22,0.4],[25,0],[28,0.2],[30,-0.7],[31,1.1],[34,1.3],[37,1],[40,1.1],[43,1.3],[46,1],[49,1.2],[52,1.1],[55,1.3],[58,1.1],[59,0],[62,-0.3],[65,-0.2],[68,-0.4],[71,-0.2],[74,-0.5],[77,-0.2],[80,-0.4],[83,-0.3],[86,-0.5],[89,-0.2],[90,-0.5],[95,-0.4],[100,-0.6],[105,-0.5],[110,-0.6],[115,-0.5],[117,-2],[118,-0.7],[120,-0.5],[122,-0.9],[124,0.2],[126,-0.5],[129,-1.5],[131,0],[133,-0.9],[135,-0.9],[137,0],[139,0.4],[142,-0.7],[144,0],[146,-0.9],[148,0.2],[150,1.3],[151,2.2],[153,4.2],[154,2.2],[156,3.3],[158,2.2],[161,3.9],[163,2.2],[165,4.2],[167,3.0],[170,3.9],[172,2.6],[175,3.9],[177,2.2],[180,2.6],[181,2.2],[183,4.4],[184,5.7],[186,7.2],[187,7.4],[189,6.5],[191,7.2],[194,5.7],[196,7.6],[198,7],[201,7.9],[203,7.2],[205,8.1],[208,6.5],[210,7.9],[212,7.4],[214,6.1],[216,8.1],[218,10],[220,9.2],[222,7.9],[224,6.8],[226,8.3],[229,6.1],[231,7],[233,5.2],[235,8.7],[237,7.9],[240,6.5],[242,8.3],[243,6.5],[244,1.5],[247,1.3],[250,1.3],[254,1.1],[258,1.2],[261,1.7],[265,1.1],[270,1],[272,0],[273,-2.2],[274,-0.2],[277,-0.3],[282,0.2],[287,-0.2],[292,0],[297,-0.2],[300,-0.2],[304,0],[306,-0.9],[310,-0.2],[317,0.4],[322,0],[327,0],[331,-0.9],[334,0.4],[338,0.85],[342,0.4],[346,0],[350,0.4],[355,-0.5],[361,-0.5],[365,0]];

var thermalLabels = ["solar heating output diff(B2)", "thermal demand diff(B2)", "solar heating output diff(A2)", "thermal demand diff(A2)"];
var elecLabels = ["pv power output diff(B2)", "turbine power output diff(B2)", "electricity demand diff(B2)", "pv power output diff(A2)", "turbine power output diff(A2)", "electricity demand diff(A2)"];
var cityTitles = ["Memphis", "Albuquerque", "Duluth"];

// General settings
var width = 1145, height = 1307;
var svg = d3.select("#chart").append("svg")
    .attr("width", width)
    .attr("height", height);

var GREEN = "#1e9a1e", RED = "#ff1f1f";
var dashFor = { solid: null, dotted: "1.3,1.9", dashed: "5,5" };

function seriesDef(label, data, color, style) {
    return { label: label, data: data, color: color, style: style };
}

var panels = [
    { left: 58, right: 1132, top: 88, bottom: 304, yDomain: [-20, 25], yStep: 5, dayLabel: true, kx: 25,
      series: [
        seriesDef(thermalLabels[0], upperSolarB2, GREEN, "solid"),
        seriesDef(thermalLabels[1], upperThermalB2, GREEN, "dotted"),
        seriesDef(thermalLabels[2], upperSolarA2, RED, "solid"),
        seriesDef(thermalLabels[3], upperThermalA2, RED, "dotted")],
      legend: { x0: 127, x1: 1060, y0: 62, y1: 85, cols: [137, 386, 612, 862], rows: [73], textGap: 33 } },
    { left: 58, right: 1132, top: 334, bottom: 550, yDomain: [-10, 15], yStep: 5, dayLabel: false, kx: 25,
      series: [
        seriesDef(elecLabels[0], upperPvB2, GREEN, "solid"),
        seriesDef(elecLabels[1], upperTurbineB2, GREEN, "dashed"),
        seriesDef(elecLabels[2], upperElecB2, GREEN, "dotted"),
        seriesDef(elecLabels[3], upperPvA2, RED, "solid"),
        seriesDef(elecLabels[4], upperTurbineA2, RED, "dashed"),
        seriesDef(elecLabels[5], upperElecA2, RED, "dotted")],
      legend: { x0: 228, x1: 962, y0: 568, y1: 611, cols: [236, 491, 729], rows: [579, 599], textGap: 34 } },
    { left: 47.5, right: 1142, top: 712, bottom: 941, yDomain: [-80, 60], yStep: 20, dayLabel: true, kx: 14,
      series: [
        seriesDef(thermalLabels[0], lowerSolarB2, GREEN, "solid"),
        seriesDef(thermalLabels[1], lowerThermalB2, GREEN, "dotted"),
        seriesDef(thermalLabels[2], lowerSolarA2, RED, "solid"),
        seriesDef(thermalLabels[3], lowerThermalA2, RED, "dotted")],
      legend: { x0: 118, x1: 1071, y0: 685, y1: 709, cols: [127, 383, 613, 866], rows: [697], textGap: 35 } },
    { left: 47.5, right: 1142, top: 972, bottom: 1201, yDomain: [-15, 15], yStep: 5, dayLabel: false, kx: 14,
      series: [
        seriesDef(elecLabels[0], lowerPvB2, GREEN, "solid"),
        seriesDef(elecLabels[1], lowerTurbineB2, GREEN, "dashed"),
        seriesDef(elecLabels[2], lowerElecB2, GREEN, "dotted"),
        seriesDef(elecLabels[3], lowerPvA2, RED, "solid"),
        seriesDef(elecLabels[4], lowerTurbineA2, RED, "dashed"),
        seriesDef(elecLabels[5], lowerElecA2, RED, "dotted")],
      legend: { x0: 220, x1: 968, y0: 1219, y1: 1263, cols: [225, 490, 733], rows: [1232, 1252], textGap: 38 } }
];

var titlePos = [[575, 27], [575, 666], [575, 1300]];

// red annotation ellipses [cx, cy, rx, ry]
var rings = [[227, 150, 192, 62], [1042, 144, 101, 62], [632, 418, 202, 68], [376, 1119, 158, 65]];

panels.forEach(function (p, pi) {
    var x = d3.scaleLinear().domain([0, 365]).range([p.left, p.right]);
    var y = d3.scaleLinear().domain(p.yDomain).range([p.bottom, p.top]);
    var yTicks = d3.range(p.yDomain[0], p.yDomain[1] + 0.001, p.yStep);
    var g = svg.append("g").attr("class", "panel");

    g.append("clipPath").attr("id", "clip" + pi)
        .append("rect")
        .attr("x", p.left).attr("y", p.top)
        .attr("width", p.right - p.left).attr("height", p.bottom - p.top);

    var line = d3.line()
        .x(function (d) { return x(d[0]); })
        .y(function (d) { return y(d[1]); });

    var plot = g.append("g").attr("clip-path", "url(#clip" + pi + ")");
    p.series.forEach(function (s) {
        plot.append("path")
            .datum(s.data)
            .attr("d", line)
            .attr("fill", "none")
            .attr("stroke", s.color)
            .attr("stroke-opacity", 0.6)
            .attr("stroke-width", 1.1)
            .attr("stroke-dasharray", dashFor[s.style]);
    });

    // axes, ticks pointing inward on all four sides
    var fmt = d3.format("d");
    var ax = [
        { a: d3.axisBottom(x).tickValues(dayTicks).tickFormat(fmt), t: "translate(0," + p.bottom + ")" },
        { a: d3.axisTop(x).tickValues(dayTicks).tickFormat(""), t: "translate(0," + p.top + ")" },
        { a: d3.axisLeft(y).tickValues(yTicks).tickFormat(fmt), t: "translate(" + p.left + ",0)" },
        { a: d3.axisRight(y).tickValues(yTicks).tickFormat(""), t: "translate(" + p.right + ",0)" }
    ];
    ax.forEach(function (o) {
        var axg = g.append("g").attr("transform", o.t)
            .call(o.a.tickSizeInner(-4).tickSizeOuter(0).tickPadding(6));
        axg.select(".domain").remove();
        axg.selectAll("line").attr("stroke", "#333");
        axg.selectAll("text").attr("font-size", 11).attr("fill", "#222")
            .style("font-family", "'DejaVu Sans', sans-serif");
    });

    g.append("rect")
        .attr("x", p.left).attr("y", p.top)
        .attr("width", p.right - p.left).attr("height", p.bottom - p.top)
        .attr("fill", "none").attr("stroke", "#333").attr("stroke-width", 1.2);

    g.append("text")
        .attr("transform", "translate(" + p.kx + "," + ((p.top + p.bottom) / 2) + ") rotate(-90)")
        .attr("text-anchor", "middle")
        .attr("font-size", 11)
        .text("kWh");

    if (p.dayLabel) {
        g.append("text")
            .attr("x", (p.left + p.right) / 2).attr("y", p.bottom + 26)
            .attr("text-anchor", "middle")
            .attr("font-size", 11)
            .text("Day");
    }

    // Legend (matplotlib style, filled column by column, with shadow)
    var L = p.legend;
    var lg = svg.append("g").attr("class", "legend");
    lg.append("rect")
        .attr("x", L.x0 + 3).attr("y", L.y0 + 3)
        .attr("width", L.x1 - L.x0).attr("height", L.y1 - L.y0)
        .attr("rx", 2).attr("fill", "#777");
    lg.append("rect")
        .attr("x", L.x0).attr("y", L.y0)
        .attr("width", L.x1 - L.x0).attr("height", L.y1 - L.y0)
        .attr("rx", 2).attr("fill", "#fff").attr("stroke", "#222").attr("stroke-width", 1.2);

    var nRows = L.rows.length;
    p.series.forEach(function (s, i) {
        var cx = L.cols[Math.floor(i / nRows)];
        var cy = L.rows[i % nRows];
        lg.append("line")
            .attr("x1", cx).attr("x2", cx + 19)
            .attr("y1", cy).attr("y2", cy)
            .attr("stroke", s.color).attr("stroke-opacity", 0.6).attr("stroke-width", 1.1)
            .attr("stroke-dasharray", dashFor[s.style]);
        lg.append("text")
            .attr("x", cx + L.textGap).attr("y", cy + 5)
            .attr("font-size", 13)
            .text(s.label);
    });
});

cityTitles.forEach(function (t, i) {
    svg.append("text")
        .attr("x", titlePos[i][0]).attr("y", titlePos[i][1])
        .attr("text-anchor", "middle")
        .attr("font-size", 26)
        .style("font-family", "'Liberation Serif', 'Times New Roman', serif")
        .style("fill", "#111")
        .text(t);
});

rings.forEach(function (r) {
    svg.append("ellipse")
        .attr("cx", r[0]).attr("cy", r[1])
        .attr("rx", r[2]).attr("ry", r[3])
        .attr("fill", "none")
        .attr("stroke", "#ff0000")
        .attr("stroke-width", 8);
});
</script>
</body>
</html>
